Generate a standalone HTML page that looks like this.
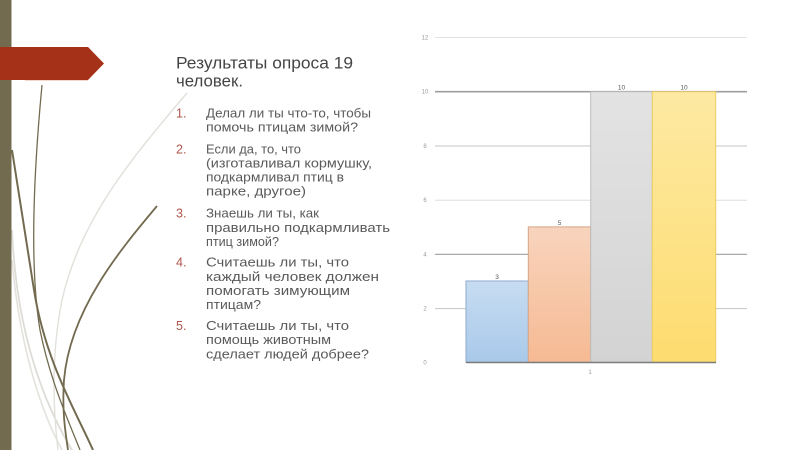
<!DOCTYPE html>
<html>
<head>
<meta charset="utf-8">
<style>
  html,body{margin:0;padding:0;background:#fff;}
  svg{display:block;}
  .t{font-family:"Liberation Sans","DejaVu Sans",sans-serif;}
</style>
</head>
<body>
<svg width="800" height="450" viewBox="0 0 800 450" xmlns="http://www.w3.org/2000/svg">
  <defs>
    <linearGradient id="gb" x1="0" y1="0" x2="0" y2="1">
      <stop offset="0" stop-color="#c7dcf1"/>
      <stop offset="1" stop-color="#a9c9ea"/>
    </linearGradient>
    <linearGradient id="go" x1="0" y1="0" x2="0" y2="1">
      <stop offset="0" stop-color="#f8d4bd"/>
      <stop offset="1" stop-color="#f6ba93"/>
    </linearGradient>
    <linearGradient id="gg" x1="0" y1="0" x2="0" y2="1">
      <stop offset="0" stop-color="#e3e3e3"/>
      <stop offset="1" stop-color="#d3d3d3"/>
    </linearGradient>
    <linearGradient id="gy" x1="0" y1="0" x2="0" y2="1">
      <stop offset="0" stop-color="#fde9a3"/>
      <stop offset="1" stop-color="#fddc6f"/>
    </linearGradient>
  </defs>

  <rect width="800" height="450" fill="#ffffff"/>

  <!-- left decoration -->
  <path d="M12,230 C15,300 30,380 72,450" fill="none" stroke="#dedcd6" stroke-width="1.8"/>
  <path d="M12,260 C18,330 35,400 62,450" fill="none" stroke="#e4e2dc" stroke-width="1.6"/>
  <path d="M187,93 C130,160 80,220 62,300 C52,350 52,400 58,450" fill="none" stroke="#e2e0da" stroke-width="1.4"/>
  <path d="M42,85 C33,180 30,270 40,330 C50,380 68,420 80,450" fill="none" stroke="#736b50" stroke-width="1.3"/>
  <path d="M12,150 C20,200 28,250 34,290 C45,360 75,410 93,450" fill="none" stroke="#736b50" stroke-width="2"/>
  <path d="M157,206 C120,250 70,310 64,380 C62,410 65,430 68,450" fill="none" stroke="#736b50" stroke-width="1.8"/>
  <rect x="0" y="0" width="11.5" height="450" fill="#736b50"/>
  <line x1="25" y1="80.5" x2="88" y2="80.5" stroke="#f4d6cc" stroke-width="1"/>
  <polygon points="0,47 88,47 104,63.5 88,80 0,80" fill="#a53218"/>

  <!-- title -->
  <g class="t" fill="#454545" font-size="16.5">
    <text x="176" y="68.5" textLength="177" lengthAdjust="spacingAndGlyphs">Результаты опроса 19</text>
    <text x="176" y="86.5" textLength="67" lengthAdjust="spacingAndGlyphs">человек.</text>
  </g>

  <!-- numbers -->
  <g class="t" fill="#b0554a" font-size="12.5">
    <text x="176" y="117.5">1.</text>
    <text x="176" y="153.3">2.</text>
    <text x="176" y="217.7">3.</text>
    <text x="176" y="266.7">4.</text>
    <text x="176" y="330">5.</text>
  </g>

  <!-- list text -->
  <g class="t" fill="#5a5a5a" font-size="12.5">
    <text x="206" y="117.5" textLength="165" lengthAdjust="spacingAndGlyphs">Делал ли ты что-то, чтобы</text>
    <text x="206" y="131.7" textLength="152" lengthAdjust="spacingAndGlyphs">помочь птицам зимой?</text>
    <text x="206" y="153.3" textLength="95" lengthAdjust="spacingAndGlyphs">Если да, то, что</text>
    <text x="206" y="167.4" textLength="166" lengthAdjust="spacingAndGlyphs">(изготавливал кормушку,</text>
    <text x="206" y="181.6" textLength="138" lengthAdjust="spacingAndGlyphs">подкармливал птиц в</text>
    <text x="206" y="195.7" textLength="100" lengthAdjust="spacingAndGlyphs">парке, другое)</text>
    <text x="206" y="217.7" textLength="113" lengthAdjust="spacingAndGlyphs">Знаешь ли ты, как</text>
    <text x="206" y="231.8" textLength="184" lengthAdjust="spacingAndGlyphs">правильно подкармливать</text>
    <text x="206" y="246" textLength="73" lengthAdjust="spacingAndGlyphs">птиц зимой?</text>
    <text x="206" y="266.7" textLength="143" lengthAdjust="spacingAndGlyphs">Считаешь ли ты, что</text>
    <text x="206" y="280.8" textLength="173" lengthAdjust="spacingAndGlyphs">каждый человек должен</text>
    <text x="206" y="295" textLength="144" lengthAdjust="spacingAndGlyphs">помогать зимующим</text>
    <text x="206" y="309.1" textLength="55" lengthAdjust="spacingAndGlyphs">птицам?</text>
    <text x="206" y="330" textLength="143" lengthAdjust="spacingAndGlyphs">Считаешь ли ты, что</text>
    <text x="206" y="344.1" textLength="125" lengthAdjust="spacingAndGlyphs">помощь животным</text>
    <text x="206" y="358.3" textLength="163" lengthAdjust="spacingAndGlyphs">сделает людей добрее?</text>
  </g>

  <!-- gridlines -->
  <g stroke-width="1">
    <line x1="435" y1="37.5" x2="747" y2="37.5" stroke="#e2e2e2"/>
    <line x1="435" y1="91.7" x2="747" y2="91.7" stroke="#9e9e9e" stroke-width="1.6"/>
    <line x1="435" y1="146" x2="747" y2="146" stroke="#c4c4c4"/>
    <line x1="435" y1="200.2" x2="747" y2="200.2" stroke="#dddddd"/>
    <line x1="435" y1="254.4" x2="747" y2="254.4" stroke="#a8a8a8" stroke-width="1.3"/>
    <line x1="435" y1="308.6" x2="747" y2="308.6" stroke="#c4c4c4"/>
  </g>

  <!-- tick labels -->
  <g class="t" fill="#9a9a9a" font-size="6" text-anchor="middle">
    <text x="425" y="39.5">12</text>
    <text x="425" y="93.7">10</text>
    <text x="425" y="148">8</text>
    <text x="425" y="202.2">6</text>
    <text x="425" y="256.4">4</text>
    <text x="425" y="310.6">2</text>
    <text x="425" y="364.5">0</text>
  </g>

  <!-- bars -->
  <rect x="466" y="281" width="62.3" height="81.3" fill="url(#gb)" stroke="#8faacb" stroke-width="1"/>
  <rect x="528.3" y="226.9" width="62.4" height="135.4" fill="url(#go)" stroke="#d4a587" stroke-width="1"/>
  <rect x="590.7" y="91.7" width="61.6" height="270.6" fill="url(#gg)" stroke="#bdbdbd" stroke-width="1"/>
  <rect x="652.3" y="91.7" width="63.4" height="270.6" fill="url(#gy)" stroke="#eccd66" stroke-width="1"/>

  <!-- axis -->
  <line x1="466" y1="362.5" x2="716" y2="362.5" stroke="#7d7d7d" stroke-width="1.5"/>

  <!-- data labels -->
  <g class="t" fill="#555" font-size="6.5" text-anchor="middle">
    <text x="497" y="279">3</text>
    <text x="559.5" y="225">5</text>
    <text x="621.5" y="89.5">10</text>
    <text x="684" y="89.5">10</text>
  </g>
  <text class="t" x="590" y="374" fill="#9a9a9a" font-size="6" text-anchor="middle">1</text>
</svg>
</body>
</html>
